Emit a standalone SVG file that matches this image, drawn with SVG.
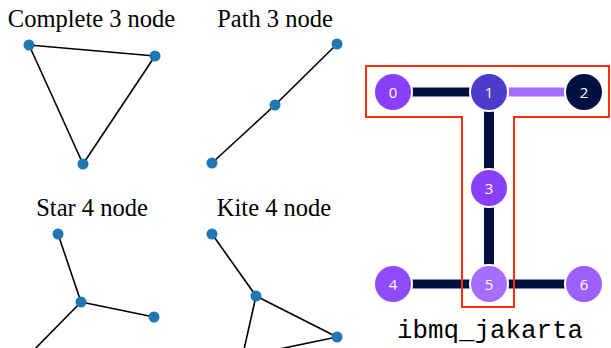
<svg xmlns="http://www.w3.org/2000/svg" width="611" height="348" viewBox="0 0 611 348">
<style>
.title{font-family:"Liberation Serif","Times New Roman",serif;font-size:24.5px;fill:#000;text-anchor:middle}
.g line{stroke:#000;stroke-width:1.6}
.n{fill:#1f77b4}
.q{stroke:#fff;stroke-width:2}
.ql{font-family:"Open Sans","Liberation Sans",sans-serif;font-size:15px;fill:#fff;text-anchor:middle}
.e{stroke:#001141;stroke-width:9}
</style>
<rect width="611" height="348" fill="#fff"/>
<text class="title" x="91.5" y="27">Complete 3 node</text>
<text class="title" x="275" y="27">Path 3 node</text>
<text class="title" x="92" y="216">Star 4 node</text>
<text class="title" x="274" y="216">Kite 4 node</text>
<g id="connectors">
<g class="g">
<line x1="29" y1="45" x2="155" y2="56"/>
<line x1="29" y1="45" x2="83" y2="164"/>
<line x1="155" y1="56" x2="83" y2="164"/>
<line x1="212" y1="163" x2="275" y2="105"/>
<line x1="275" y1="105" x2="337" y2="44"/>
<line x1="58" y1="234" x2="81" y2="302"/>
<line x1="81" y1="302" x2="154" y2="317"/>
<line x1="81" y1="302" x2="30" y2="354"/>
<line x1="212" y1="234" x2="256" y2="296"/>
<line x1="256" y1="296" x2="337" y2="337"/>
<line x1="256" y1="296" x2="243" y2="354"/>
<line x1="337" y1="337" x2="236" y2="358"/>
</g>
<line class="e" x1="393" y1="92" x2="489" y2="92"/>
<line class="e" x1="489" y1="92" x2="584" y2="92" style="stroke:#a56eff"/>
<line class="e" x1="489" y1="92" x2="489" y2="284" style="stroke-width:10"/>
<line class="e" x1="393" y1="284" x2="584" y2="284"/>
</g>
<g id="graph-nodes">
<circle class="n" cx="29" cy="45" r="5.5"/>
<circle class="n" cx="155" cy="56" r="5.5"/>
<circle class="n" cx="83" cy="164" r="5.5"/>
<circle class="n" cx="212" cy="163" r="5.5"/>
<circle class="n" cx="275" cy="105" r="5.5"/>
<circle class="n" cx="337" cy="44" r="5.5"/>
<circle class="n" cx="58" cy="234" r="5.5"/>
<circle class="n" cx="81" cy="302" r="5.5"/>
<circle class="n" cx="154" cy="317" r="5.5"/>
<circle class="n" cx="212" cy="234" r="5.5"/>
<circle class="n" cx="256" cy="296" r="5.5"/>
<circle class="n" cx="337" cy="337" r="5.5"/>
</g>
<path id="layout-outline" d="M366,66 H609 V117 H514 V307 H462 V117 H366 Z" fill="none" stroke="#fa2d10" stroke-width="2"/>
<g id="q0"><circle class="q" cx="393" cy="92" r="19" fill="#8a3ffc"/><text class="ql" x="393" y="97.5">0</text></g>
<g id="q1"><circle class="q" cx="489" cy="92" r="19" fill="#4e3bcb"/><text class="ql" x="489" y="97.5">1</text></g>
<g id="q2"><circle class="q" cx="584" cy="92" r="19" fill="#001141"/><text class="ql" x="584" y="97.5">2</text></g>
<g id="q3"><circle class="q" cx="489" cy="188" r="19" fill="#8a3ffc"/><text class="ql" x="489" y="193.5">3</text></g>
<g id="q4"><circle class="q" cx="393" cy="284" r="19" fill="#8f4afc"/><text class="ql" x="393" y="289.5">4</text></g>
<g id="q5"><circle class="q" cx="489" cy="284" r="19" fill="#a56eff"/><text class="ql" x="489" y="289.5">5</text></g>
<g id="q6"><circle class="q" cx="584" cy="284" r="19" fill="#9d60fe"/><text class="ql" x="584" y="289.5">6</text></g>
<text x="490" y="338" text-anchor="middle" font-family="'Liberation Mono','Courier New',monospace" font-size="26" textLength="186" lengthAdjust="spacingAndGlyphs">ibmq_jakarta</text>
</svg>
